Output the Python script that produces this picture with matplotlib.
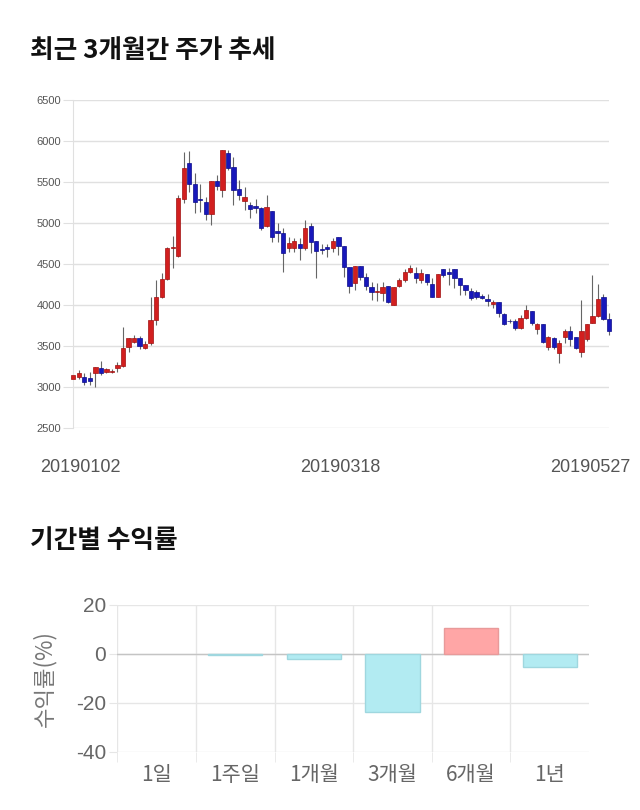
import matplotlib
matplotlib.use("Agg")
import matplotlib.pyplot as plt
from matplotlib.transforms import ScaledTranslation
from matplotlib.patches import Rectangle

# ---------------- data ----------------
opens = [3105, 3120, 3120, 3112, 3177, 3230, 3190, 3190, 3238, 3262,
         3494, 3555, 3596, 3474, 3535, 3819, 4104, 4315, 4700, 4603,
         5294, 5736, 5472, 5290, 5253, 5111, 5513, 5403, 5850, 5679,
         5411, 5273, 5221, 5208, 5180, 4964, 5147, 4903, 4875, 4692,
         4692, 4741, 4692, 4964, 4786, 4680, 4704, 4700, 4835, 4725,
         4461, 4266, 4481, 4339, 4225, 4164, 4144, 4233, 4002, 4233,
         4306, 4408, 4396, 4306, 4376, 4258, 4103, 4441, 4400, 4441,
         4327, 4246, 4173, 4164, 4112, 4075, 4014, 4043, 3888, 3807,
         3807, 3718, 3840, 3929, 3705, 3766, 3486, 3600, 3421, 3608,
         3689, 3616, 3433, 3583, 3778, 3868, 4095, 3827]
highs = [3160, 3210, 3177, 3190, 3250, 3323, 3230, 3218, 3307, 3738,
         3596, 3637, 3625, 3568, 4104, 4307, 4388, 4705, 4847, 5342,
         5870, 5878, 5606, 5472, 5322, 5513, 5586, 5890, 5890, 5809,
         5525, 5440, 5261, 5290, 5192, 5342, 5147, 5005, 4936, 4834,
         4814, 4814, 5038, 5005, 4786, 4740, 4740, 4814, 4835, 4725,
         4461, 4481, 4481, 4396, 4286, 4266, 4286, 4233, 4225, 4327,
         4445, 4489, 4469, 4441, 4376, 4327, 4380, 4441, 4453, 4441,
         4327, 4246, 4205, 4185, 4132, 4136, 4063, 4043, 3900, 3827,
         3827, 3880, 4002, 3929, 3778, 3766, 3625, 3608, 3576, 3706,
         3746, 3616, 4063, 3770, 4368, 4258, 4136, 3900]
lows = [3095, 3104, 3023, 3027, 3006, 3145, 3177, 3177, 3185, 3250,
        3433, 3535, 3462, 3462, 3515, 3758, 4083, 4307, 4449, 4591,
        5241, 5383, 5127, 5140, 5038, 4977, 5403, 5314, 5650, 5220,
        5281, 5160, 5066, 5123, 4915, 4956, 4774, 4769, 4408, 4652,
        4652, 4550, 4672, 4631, 4327, 4620, 4590, 4652, 4611, 4347,
        4144, 4185, 4307, 4185, 4063, 4055, 4055, 4022, 4002, 4218,
        4278, 4396, 4266, 4266, 4246, 4095, 4095, 4347, 4246, 4205,
        4128, 4124, 4063, 4071, 4071, 3989, 3962, 3860, 3754, 3786,
        3702, 3706, 3827, 3758, 3644, 3535, 3454, 3462, 3291, 3535,
        3502, 3462, 3372, 3568, 3778, 3860, 3819, 3636]
closes = [3150, 3177, 3063, 3072, 3242, 3169, 3218, 3190, 3271, 3474,
          3596, 3596, 3503, 3527, 3819, 4095, 4315, 4700, 4710, 5302,
          5667, 5472, 5253, 5285, 5115, 5513, 5452, 5890, 5667, 5403,
          5342, 5322, 5172, 5184, 4936, 5192, 4826, 4875, 4631, 4753,
          4782, 4692, 4936, 4774, 4660, 4672, 4680, 4782, 4725, 4461,
          4233, 4481, 4347, 4237, 4160, 4164, 4225, 4043, 4225, 4306,
          4404, 4453, 4327, 4388, 4286, 4103, 4380, 4367, 4385, 4327,
          4246, 4185, 4083, 4104, 4083, 4055, 4038, 3909, 3766, 3802,
          3726, 3840, 3941, 3778, 3766, 3547, 3608, 3494, 3543, 3689,
          3583, 3474, 3689, 3770, 3868, 4079, 3827, 3689]
date_tick_index = [0, 49, 97]
date_tick_labels = ["20190102", "20190318", "20190527"]
price_ticks = [2500, 3000, 3500, 4000, 4500, 5000, 5500, 6000, 6500]

periods = ["1일", "1주일", "1개월", "3개월", "6개월", "1년"]
returns = [0.0, -0.3, -1.9, -23.9, 10.7, -5.2]
return_ticks = [-40, -20, 0, 20]

KR = ["Noto Sans CJK KR", "DejaVu Sans"]
NUM = ["Liberation Sans", "DejaVu Sans"]

fig = plt.figure(figsize=(6.4, 8.1), dpi=100)
fig.patch.set_facecolor("white")

# titles
fig.text(30 / 640, 1 - 50 / 810, "최근 3개월간 주가 추세", family=KR,
         fontsize=18.5, fontweight="bold", ha="left", va="center", color="#111111")
fig.text(30 / 640, 1 - 541 / 810, "기간별 수익률", family=KR,
         fontsize=18.5, fontweight="bold", ha="left", va="center", color="#111111")

# ---------------- candlestick ----------------
ax = fig.add_axes([73.3 / 640, 1 - 428.3 / 810, (609 - 73.3) / 640, (428.3 - 100) / 810])
ax.set_xlim(0, len(opens) - 1)
ax.set_ylim(2500, 6500)
up_c, up_e = "#d21f1f", "#a01010"
dn_c, dn_e = "#1818bb", "#0c0c8a"
w = 0.78
for i, (o, h, l, c) in enumerate(zip(opens, highs, lows, closes)):
    ax.vlines(i, l, h, color="#666666", lw=0.8, zorder=2, clip_on=False)
    up = c >= o
    bottom = min(o, c)
    height = max(abs(c - o), 8)
    ax.add_patch(Rectangle((i - w / 2, bottom), w, height,
                           facecolor=up_c if up else dn_c,
                           edgecolor=up_e if up else dn_e, lw=0.5,
                           zorder=3, clip_on=False))
ax.set_yticks(price_ticks)
ax.set_yticklabels([str(v) for v in price_ticks])
ax.grid(axis="y", color="#e0e0e0", lw=1)
ax.set_axisbelow(True)
for s in ["top", "right", "bottom"]:
    ax.spines[s].set_visible(False)
ax.spines["left"].set_color("#e0e0e0")
ax.tick_params(axis="y", length=7.5, color="#e0e0e0", pad=1, labelsize=8,
               labelcolor="#555555")
for t in ax.get_yticklabels():
    t.set_family(NUM)
ax.set_xticks(date_tick_index)
ax.set_xticklabels(date_tick_labels)
ax.tick_params(axis="x", length=0, pad=22, labelsize=13, labelcolor="#555555")
offsets = [7, -4, -19]
for t, dx in zip(ax.get_xticklabels(), offsets):
    t.set_family(NUM)
    t.set_transform(t.get_transform() + ScaledTranslation(dx / 100, 0, fig.dpi_scale_trans))

# ---------------- returns bar chart ----------------
bx = fig.add_axes([117.3 / 640, 1 - 751.7 / 810, (589 - 117.3) / 640, (751.7 - 605) / 810])
xs = list(range(len(periods)))
cols = ["#ffa6a6" if r > 0 else "#b2ebf2" for r in returns]
edges = ["#e89a9a" if r > 0 else "#9fd7df" for r in returns]
lws = [1 if r != 0 else 0 for r in returns]
bx.bar(xs, returns, width=0.69, color=cols, edgecolor=edges, linewidth=lws, zorder=3)
bx.set_xlim(-0.5, len(periods) - 0.5)
bx.set_ylim(-40, 20)
bx.set_yticks(return_ticks)
bx.set_yticklabels([str(v) for v in return_ticks])
bx.set_xticks(xs)
bx.set_xticklabels(periods, family=KR)
bx.set_xticks([x + 0.5 for x in xs[:-1]] + [-0.5], minor=True)
bx.grid(axis="x", which="minor", color="#e6e6e6", lw=1)
bx.grid(axis="y", which="major", color="#e6e6e6", lw=1)
bx.axhline(0, color="#c4c4c4", lw=1, zorder=2)
bx.set_axisbelow(True)
for s in bx.spines.values():
    s.set_visible(False)
bx.tick_params(axis="y", length=6, color="#e6e6e6", pad=2, labelsize=15,
               labelcolor="#666666")
for t in bx.get_yticklabels():
    t.set_family(NUM)
bx.tick_params(axis="x", which="major", length=0, pad=9, labelsize=15,
               labelcolor="#666666")
bx.tick_params(axis="x", which="minor", length=7.5, color="#e6e6e6")
bx.set_ylabel("수익률(%)", family=KR, fontsize=16, color="#777777")
bx.yaxis.set_label_coords(-0.13, 0.5)

fig.savefig("out.png", dpi=100, facecolor="white")
